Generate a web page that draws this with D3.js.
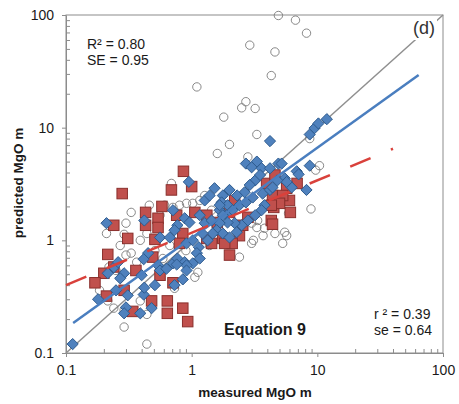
<!DOCTYPE html>
<html><head><meta charset="utf-8">
<script src="https://cdn.jsdelivr.net/npm/d3@7"></script>
<style>body{margin:0;background:#fff} svg{display:block} text{font-family:"Liberation Sans",Arial,sans-serif}</style>
</head><body><svg id="c" width="459" height="404"></svg>
<script>
const tickValues=[0.1,1,10,100];
const tickLabels=["0.1","1","10","100"];
const circles=[[4.9,99],[6.7,90],[8.2,69],[2.9,54],[4.6,47],[4.3,29],[2.7,17],[2.5,15],[3.2,14.8],[3.3,8.7],[2.0,7.1],[1.6,5.9],[1.1,23],[1.8,12.4],[8.7,8.0],[10.4,4.6],[9.7,4.2],[2.8,5.5],[8.9,1.9],[5.9,1.74],[5.5,1.18],[3.8,1.28],[4.6,1.15],[5.7,1.1],[5.3,0.94],[3.0,0.94],[3.1,1.0],[2.4,0.71],[3.3,1.3],[3.35,1.5],[3.0,1.42],[3.7,1.1],[1.16,2.26],[1.02,2.13],[0.91,2.13],[0.8,2.05],[0.71,1.96],[1.44,1.85],[0.69,3.2],[0.33,1.77],[0.30,1.42],[0.21,1.15],[0.44,1.15],[0.33,0.77],[0.30,0.74],[0.22,0.58],[0.25,0.54],[0.24,0.25],[0.29,0.24],[0.44,0.22],[0.29,0.17],[0.44,0.12],[0.59,0.69],[1.12,0.52],[1.06,0.47],[0.29,1.13],[0.73,0.375],[0.61,2.05],[0.46,2.05],[0.56,1.67],[1.27,2.5],[1.58,1.23],[1.73,1.0],[1.39,0.9],[0.39,1.0],[0.51,0.81],[0.67,0.9],[0.9,0.81],[0.27,0.9],[0.185,0.36],[0.215,0.29],[0.28,0.49],[0.365,0.64],[0.39,0.29]];
const squares=[[0.28,2.6],[0.86,4.1],[1.0,3.0],[0.69,2.8],[0.58,2.0],[0.54,1.57],[0.54,1.3],[0.76,1.67],[1.06,1.77],[0.24,1.36],[0.31,1.04],[0.43,1.77],[0.43,1.36],[0.215,0.75],[0.2,0.51],[0.24,0.58],[0.17,0.42],[0.21,0.32],[0.29,0.36],[0.36,0.54],[0.34,0.234],[1.32,1.67],[0.51,1.02],[0.85,1.15],[0.80,0.94],[1.32,1.04],[0.49,0.71],[0.56,0.49],[0.71,0.42],[0.48,0.29],[0.64,0.29],[0.64,0.225],[0.85,0.25],[0.93,0.19],[2.2,2.26],[3.95,3.2],[4.6,3.8],[4.4,2.5],[4.5,1.96],[4.3,1.5],[2.4,1.1],[1.77,1.04],[2.8,1.6],[6.9,3.2],[5.7,2.9],[6.0,2.26],[6.1,1.77],[5.3,2.5],[5.0,2.13],[4.3,2.05],[4.4,1.39],[2.1,0.94],[2.0,0.74],[1.83,0.94],[1.44,0.94],[2.0,1.77],[1.6,1.44],[2.55,1.36]];
const diamonds=[[0.113,0.12],[0.21,1.42],[0.95,3.3],[0.42,1.5],[4.2,7.6],[8.7,8.7],[9.5,9.9],[10.2,10.9],[11.9,11.9],[2.7,4.8],[3.3,5.0],[3.0,4.45],[3.6,4.36],[4.2,4.36],[4.9,4.8],[6.85,4.1],[7.1,3.85],[8.7,4.6],[8.2,2.8],[5.5,3.55],[5.2,4.8],[6.25,2.95],[5.7,3.3],[3.2,3.4],[3.5,3.8],[2.9,3.1],[2.64,2.67],[2.3,2.5],[2.0,2.8],[1.77,2.5],[1.73,2.17],[1.93,2.05],[1.67,1.85],[1.9,1.67],[2.12,1.85],[2.4,2.05],[2.7,2.17],[3.06,2.4],[3.67,2.6],[4.2,2.8],[4.4,2.95],[4.8,3.4],[3.8,2.05],[3.6,1.85],[3.2,1.67],[2.8,1.5],[2.5,1.36],[2.2,1.42],[1.93,1.44],[1.67,1.42],[1.58,1.23],[1.77,1.15],[2.0,1.06],[2.28,1.18],[0.71,1.85],[0.88,1.57],[1.16,1.67],[0.77,1.36],[0.96,1.44],[1.27,1.42],[1.67,2.05],[1.77,1.67],[0.56,1.06],[0.67,1.06],[0.73,1.23],[0.91,0.94],[1.02,1.0],[1.14,0.87],[1.47,1.15],[0.45,0.77],[0.415,0.68],[0.54,0.6],[0.56,0.54],[0.63,0.56],[0.71,0.625],[0.77,0.69],[0.88,0.64],[1.02,0.625],[0.91,0.6],[1.1,0.77],[1.16,0.69],[0.91,0.54],[0.73,0.4],[0.85,0.45],[0.215,0.51],[0.24,0.575],[0.26,0.64],[0.18,0.3],[0.25,0.36],[0.31,0.325],[0.30,0.254],[0.29,0.225],[0.39,0.225],[0.415,0.33],[0.42,0.38],[0.48,0.25],[0.29,0.51],[0.27,0.46],[0.4,0.49],[0.51,0.4],[0.76,0.61],[1.27,2.26],[1.39,2.5],[1.52,2.9],[1.44,1.5],[1.22,1.15],[1.34,1.0]];
const oneToOne=[[0.1,0.1],[100,100]];
const fitBlue=[[0.114,0.185],[64,29.3]];
const fitRed=[[0.1,0.4],[40,6.5]];

const svg=d3.select("#c");
const L=66,R=443,T=15,B=353;
const x=d3.scaleLog().domain([0.1,100]).range([L,R]);
const y=d3.scaleLog().domain([0.1,100]).range([B,T]);
const minor=[];
tickValues.slice(0,3).forEach(d=>{for(let k=2;k<10;k++)minor.push(d*k);});
const axisCol="#8c8c8c";

function styleAxis(g){
  g.selectAll(".domain").attr("stroke",axisCol);
  g.selectAll(".tick line").attr("stroke",axisCol);
  g.selectAll(".tick text").attr("fill","#1a1a1a").style("font-size","14px").style("font-family",'"Liberation Sans",Arial,sans-serif');
}
svg.append("rect").attr("x",L).attr("y",T).attr("width",R-L).attr("height",B-T).attr("fill","none").attr("stroke",axisCol);
const gx=svg.append("g").attr("transform",`translate(0,${B})`)
  .call(d3.axisBottom(x).tickValues(tickValues).tickFormat((d,i)=>tickLabels[i]).tickSizeInner(4).tickSizeOuter(0).tickPadding(8));
styleAxis(gx);
const gxm=svg.append("g").attr("transform",`translate(0,${B})`)
  .call(d3.axisBottom(x).tickValues(minor).tickFormat("").tickSizeInner(-4).tickSizeOuter(0));
styleAxis(gxm); gxm.select(".domain").remove();
const gy=svg.append("g").attr("transform",`translate(${L},0)`)
  .call(d3.axisLeft(y).tickValues(tickValues).tickFormat((d,i)=>tickLabels[i]).tickSizeInner(4).tickSizeOuter(0).tickPadding(8));
styleAxis(gy);
const gym=svg.append("g").attr("transform",`translate(${L},0)`)
  .call(d3.axisLeft(y).tickValues(minor).tickFormat("").tickSizeInner(-4).tickSizeOuter(0));
styleAxis(gym); gym.select(".domain").remove();

const line=d3.line().x(d=>x(d[0])).y(d=>y(d[1]));
svg.append("path").datum(oneToOne).attr("d",line).attr("stroke","#8f8f8f").attr("stroke-width",1.5).attr("fill","none");

svg.append("g").selectAll("circle").data(circles).join("circle")
  .attr("cx",d=>x(d[0])).attr("cy",d=>y(d[1])).attr("r",4.2)
  .attr("fill","none").attr("stroke","#7a7a7a").attr("stroke-width",0.9);
const s=10.5;
svg.append("g").selectAll("rect").data(squares).join("rect")
  .attr("x",d=>x(d[0])-s/2).attr("y",d=>y(d[1])-s/2).attr("width",s).attr("height",s)
  .attr("fill","#c0504d").attr("stroke","#8a2f2c").attr("stroke-width",1);
const h=5.6;
svg.append("g").selectAll("path").data(diamonds).join("path")
  .attr("d",d=>{const cx=x(d[0]),cy=y(d[1]);return `M${cx},${cy-h}L${cx+h},${cy}L${cx},${cy+h}L${cx-h},${cy}Z`;})
  .attr("fill","#4f81bd").attr("stroke","#2e5b8e").attr("stroke-width",1);

svg.append("path").datum(fitBlue).attr("d",line).attr("stroke","#4a7ebf").attr("stroke-width",2.5).attr("fill","none");
svg.append("path").datum(fitRed).attr("d",line).attr("stroke","#d9413b").attr("stroke-width",2.5).attr("fill","none").attr("stroke-dasharray","22,22");

svg.append("rect").attr("x",411).attr("y",18).attr("width",26).attr("height",22).attr("fill","#fff");
const T1=(t,xx,yy,size,weight,anchor)=>svg.append("text").attr("x",xx).attr("y",yy).text(t)
  .style("font-size",size+"px").style("font-weight",weight||"normal").attr("text-anchor",anchor||"start").attr("fill","#1a1a1a");
T1("(d)",413,34,18,"normal").attr("fill","#333");
T1("R² = 0.80",87,49,14);
T1("SE = 0.95",87,65,14);
T1("r ² = 0.39",374,319,14);
T1("se = 0.64",374,335,14);
T1("Equation 9",224,335,16,"bold");
T1("measured MgO m",255,397,13.5,"bold","middle");
svg.append("text").attr("transform","translate(23,183) rotate(-90)").attr("text-anchor","middle")
  .text("predicted MgO m").style("font-size","13.5px").style("font-weight","bold").attr("fill","#1a1a1a");
</script></body></html>
